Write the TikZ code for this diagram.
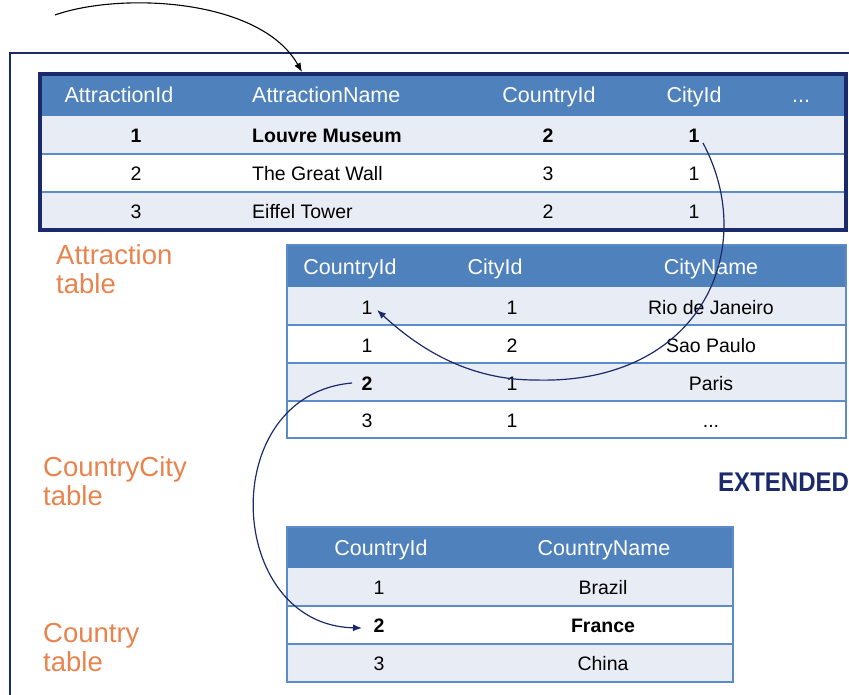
\documentclass[tikz,border=0pt]{standalone}
\usepackage{fontspec}
\setmainfont{Liberation Sans}
\usetikzlibrary{arrows.meta}
\definecolor{hdrblue}{HTML}{4F81BD}
\definecolor{rowlight}{HTML}{E8ECF4}
\definecolor{sepblue}{HTML}{5B8BC8}
\definecolor{navy}{HTML}{1B2A6B}
\definecolor{lblorange}{HTML}{E9834E}
\tikzset{
  cell/.style={anchor=base, inner sep=1pt, font=\fontsize{19.5}{23}\selectfont},
  cellw/.style={cell, anchor=base west},
  hdr/.style={anchor=base, inner sep=1pt, text=white, font=\fontsize{21.5}{25}\selectfont},
  hdrw/.style={hdr, anchor=base west},
  lbl/.style={anchor=base west, inner sep=0pt, text=lblorange, font=\fontsize{27.5}{30}\selectfont},
  sep/.style={draw=sepblue, line width=1.5pt},
  link/.style={draw=navy, line width=1.2pt, -{Latex[length=9pt,width=7pt]}},
}
\begin{document}
\begin{tikzpicture}[x=1pt,y=-1pt]
\useasboundingbox (0,0) rectangle (849,695);
% outer frame
\draw[navy, line width=1.2pt] (10,700) -- (10,53) -- (855,53);

% ---------- Attraction table ----------
\fill[hdrblue] (40,74) rectangle (846,116);
\fill[rowlight] (40,116) rectangle (846,154);
\fill[white] (40,154) rectangle (846,192);
\fill[rowlight] (40,192) rectangle (846,230);
\draw[sep] (40,154) -- (846,154);
\draw[sep] (40,192) -- (846,192);
\draw[navy, line width=3.5pt] (40,74) rectangle (846,230);
\node[hdr] (ah1) at (119,103) {AttractionId};
\node[hdrw] (ah2) at (251,103) {AttractionName};
\node[hdr] (ah3) at (549,103) {CountryId};
\node[hdr] (ah4) at (694,103) {CityId};
\node[hdr] (ah5) at (801,103) {...};
\node[cell] (a1id) at (136,143) {\bfseries 1};
\node[cellw] (a1nm) at (251,143) {\bfseries Louvre Museum};
\node[cell] (a1co) at (548,143) {\bfseries 2};
\node[cell] (a1ci) at (694,143) {\bfseries 1};
\node[cell] (a2id) at (136,181) {2};
\node[cellw] (a2nm) at (251,181) {The Great Wall};
\node[cell] (a2co) at (548,181) {3};
\node[cell] (a2ci) at (694,181) {1};
\node[cell] (a3id) at (136,219) {3};
\node[cellw] (a3nm) at (251,219) {Eiffel Tower};
\node[cell] (a3co) at (548,219) {2};
\node[cell] (a3ci) at (694,219) {1};

% ---------- CountryCity table ----------
\fill[hdrblue] (287,245) rectangle (846,287);
\fill[rowlight] (287,287) rectangle (846,325);
\fill[white] (287,325) rectangle (846,363);
\fill[rowlight] (287,363) rectangle (846,401);
\fill[white] (287,401) rectangle (846,438);
\draw[sep] (287,325) -- (846,325);
\draw[sep] (287,363) -- (846,363);
\draw[sep] (287,401) -- (846,401);
\draw[sepblue, line width=1.5pt] (287,245) rectangle (846,438);
\node[hdr] (ch1) at (350,274) {CountryId};
\node[hdr] (ch2) at (495,274) {CityId};
\node[hdr] (ch3) at (711,274) {CityName};
\node[cell] (c1co) at (367,314) {1};
\node[cell] (c1ci) at (512,314) {1};
\node[cell] (c1nm) at (711,314) {Rio de Janeiro};
\node[cell] (c2co) at (367,352) {1};
\node[cell] (c2ci) at (512,352) {2};
\node[cell] (c2nm) at (711,352) {Sao Paulo};
\node[cell] (c3co) at (367,390) {\bfseries 2};
\node[cell] (c3ci) at (512,390) {1};
\node[cell] (c3nm) at (711,390) {Paris};
\node[cell] (c4co) at (367,427) {3};
\node[cell] (c4ci) at (512,427) {1};
\node[cell] (c4nm) at (711,427) {...};

% ---------- Country table ----------
\fill[hdrblue] (287,527) rectangle (733,568);
\fill[rowlight] (287,568) rectangle (733,606);
\fill[white] (287,606) rectangle (733,644);
\fill[rowlight] (287,644) rectangle (733,682);
\draw[sep] (287,606) -- (733,606);
\draw[sep] (287,644) -- (733,644);
\draw[sepblue, line width=1.5pt] (287,527) rectangle (733,682);
\node[hdr] (kh1) at (381,555) {CountryId};
\node[hdr] (kh2) at (604,555) {CountryName};
\node[cell] (k1co) at (379,594) {1};
\node[cell] (k1nm) at (603,594) {Brazil};
\node[cell] (k2co) at (379,632) {\bfseries 2};
\node[cell] (k2nm) at (603,632) {\bfseries France};
\node[cell] (k3co) at (379,670) {3};
\node[cell] (k3nm) at (603,670) {China};

% ---------- labels ----------
\node[lbl] (la1) at (56,265) {Attraction};
\node[lbl] (la2) at (56,294) {table};
\node[lbl] (lc1) at (43,476) {CountryCity};
\node[lbl] (lc2) at (43,505) {table};
\node[lbl] (lk1) at (43,642) {Country};
\node[lbl] (lk2) at (43,671) {table};
\node[anchor=base west, inner sep=0pt, text=navy, font=\bfseries\fontsize{27}{30}\selectfont] (ext) at (718,491) {\scalebox{0.89}[1]{EXTENDED}};

% ---------- connectors ----------
\coordinate (s1) at (55,15);
\coordinate (e1) at (302,72);
\draw[line width=1.1pt, -{Latex[length=9pt,width=7pt]}] (s1) .. controls (120,-8) and (260,-2) .. (e1);

\coordinate (s2) at (703,143);
\coordinate (m2) at (535,380);
\coordinate (e2) at (377,310);
\draw[link] (s2) .. controls (760,250) and (700,385) .. (m2) .. controls (460,380) and (410,340) .. (e2);

\coordinate (s3) at (352,383);
\coordinate (e3) at (362,628);
\draw[link] (s3) .. controls (215,395) and (225,625) .. (e3);
\end{tikzpicture}
\end{document}
